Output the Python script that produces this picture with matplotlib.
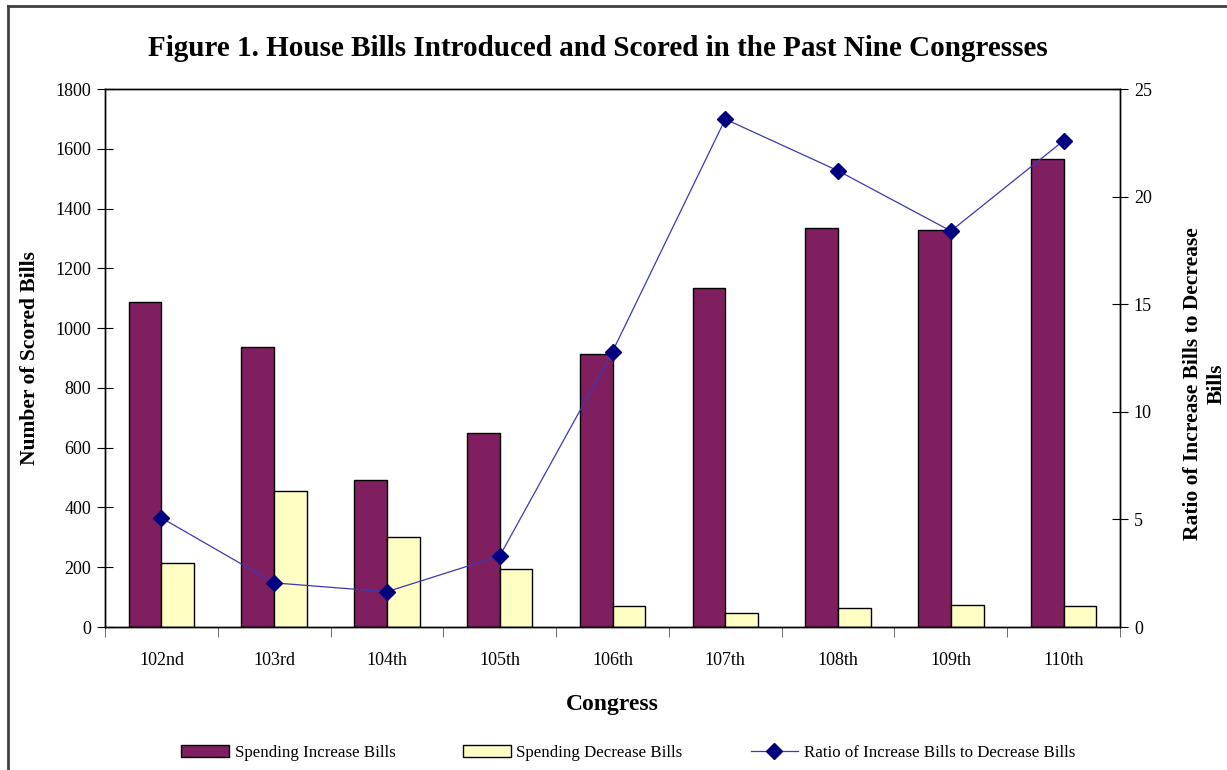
import numpy as np
import matplotlib
matplotlib.use("Agg")
from matplotlib import pyplot as plt
from matplotlib.lines import Line2D

congresses = ["102nd", "103rd", "104th", "105th", "106th", "107th", "108th", "109th", "110th"]
increase_bills = [1086, 937, 492, 649, 913, 1134, 1335, 1328, 1566]
decrease_bills = [214, 456, 300, 195, 71, 48, 63, 72, 69]
ratio = [5.07, 2.05, 1.64, 3.3, 12.8, 23.6, 21.2, 18.4, 22.6]

plt.rcParams['font.family'] = ['Liberation Serif', 'DejaVu Serif']

purple = '#7F1F5F'
yellow = '#FFFFC4'
navy = '#000080'

fig = plt.figure(figsize=(12.27, 7.70), dpi=100)
ax = fig.add_axes([0.0856, 0.1857, 0.8272, 0.6987])
ax2 = ax.twinx()

x = np.arange(len(congresses))
w = 0.29
b1 = ax.bar(x - w / 2, increase_bills, w, color=purple, edgecolor='black', linewidth=1.0,
            label='Spending Increase Bills')
b2 = ax.bar(x + w / 2, decrease_bills, w, color=yellow, edgecolor='black', linewidth=1.0,
            label='Spending Decrease Bills')
ln, = ax2.plot(x, ratio, color='#3A3AB0', linewidth=0.9, marker='D', markersize=8,
               markerfacecolor=navy, markeredgecolor=navy,
               label='Ratio of Increase Bills to Decrease Bills')

ax.set_xlim(-0.5, len(congresses) - 0.5)
ax.set_ylim(0, 1800)
ax.set_yticks(range(0, 1801, 200))
ax2.set_ylim(0, 25)
ax2.set_yticks(range(0, 26, 5))

ax.set_xticks(x)
ax.set_xticklabels(congresses, fontsize=13)
ax.tick_params(axis='x', length=0, pad=18)
ax.set_xticks(np.arange(-0.5, len(congresses), 1), minor=True)
ax.tick_params(axis='x', which='minor', length=7, direction='out', color='#555555')

ax.tick_params(axis='y', direction='inout', length=12, labelsize=13, pad=4)
ax2.tick_params(axis='y', direction='inout', length=12, labelsize=13, pad=4)

for a in (ax, ax2):
    for s in a.spines.values():
        s.set_linewidth(1.0)
        s.set_color('black')

ax.set_ylabel('Number of Scored Bills', fontsize=15.5, fontweight='bold', labelpad=11)
ax2.set_ylabel('Ratio of Increase Bills to Decrease\nBills', fontsize=15.5, fontweight='bold',
               labelpad=22, rotation=90, linespacing=1.3)
ax2.yaxis.label.set_y(0.452)
ax.set_xlabel('Congress', fontsize=17, fontweight='bold', labelpad=18)

fig.text(0.487, 1 - 48 / 770,
         'Figure 1. House Bills Introduced and Scored in the Past Nine Congresses',
         ha='center', va='center', fontsize=21, fontweight='bold')

fig.legend(handles=[b1, b2, ln], loc='center', bbox_to_anchor=(0.512, 0.022), ncol=3,
           frameon=False, fontsize=12.2, handlelength=2.8, handleheight=0.75,
           columnspacing=4.0, handletextpad=0.35)

# frame around the chart (top and left edges visible)
fig.add_artist(Line2D([8 / 1227, 1], [1 - 6 / 770, 1 - 6 / 770], transform=fig.transFigure,
                      color='#404040', linewidth=2))
fig.add_artist(Line2D([8 / 1227, 8 / 1227], [0, 1 - 6 / 770], transform=fig.transFigure,
                      color='#404040', linewidth=2))

fig.savefig('out.png', dpi=100)
